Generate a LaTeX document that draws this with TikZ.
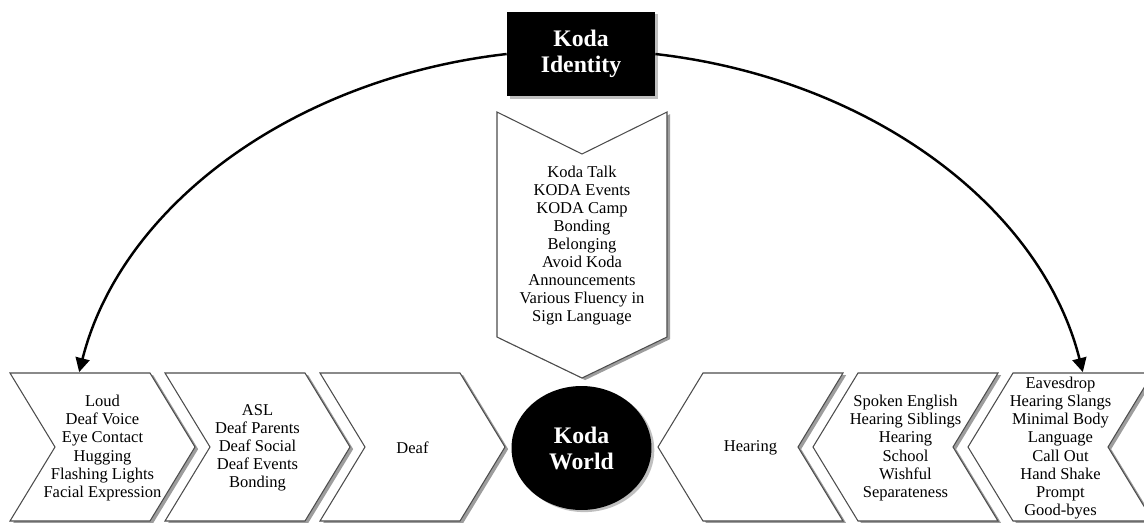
\documentclass[tikz,border=0pt]{standalone}
\usepackage{fontspec}
\setmainfont{Liberation Serif}
\usepackage{tikz}
\usetikzlibrary{arrows.meta,shadows,shapes.geometric,positioning}

\tikzset{
  chev/.style={draw=black!70,fill=white,line width=0.6pt,
    drop shadow={shadow xshift=1.8pt,shadow yshift=-1.2pt,opacity=0.55,fill=black!70}},
  lbl/.style={align=center,inner sep=0pt,font=\fontsize{9.4}{10.3}\selectfont},
  ttl/.style={align=center,text=white,fill=black,
    font=\fontsize{13.5}{14.8}\selectfont\bfseries,
    drop shadow={shadow xshift=1.6pt,shadow yshift=-1.2pt,opacity=0.5}},
  swing/.style={-{Triangle[length=8pt,width=8pt]},line width=1.4pt}
}

\begin{document}
\begin{tikzpicture}[x=0.02cm,y=-0.02cm]
		\useasboundingbox (0,0) rectangle (1144,522);
		\clip (0,0) rectangle (1144,522);
		
		% chevrons towards the middle
		\foreach \l in {10,165,320}
		\draw[chev] (\l,373) -- ++(140,0) -- ++(45,74) -- ++(-45,74) -- ++(-140,0) -- ++(45,-74) -- cycle;
		\foreach \r in {658,813,968}
		\draw[chev] (\r,447) -- ++(45,-74) -- ++(140,0) -- ++(-45,74) -- ++(45,74) -- ++(-140,0) -- cycle;
		\draw[chev] (497,112) -- (582,154) -- (667,112) -- (667,337) -- (582,378) -- (497,337) -- cycle;
		
		\node[ttl,minimum width=2.96cm,minimum height=1.7cm] (ident) at (581,54) {Koda\\Identity};
		\node[ttl,ellipse,minimum width=2.8cm,minimum height=2.48cm] (world) at (581.5,448) {Koda\\World};
		
		\node[lbl] (deafsense) at (102.5,448) {Loud\\Deaf Voice\\Eye Contact\\Hugging\\Flashing Lights\\Facial Expression};
		\node[lbl] (deafhome) at (257.5,448) {ASL\\Deaf Parents\\Deaf Social\\Deaf Events\\Bonding};
		\node[lbl] (deaf) at (412.5,448) {Deaf};
		\node[lbl] (hearing) at (750.5,448) {Hearing};
		\node[lbl] (hearhome) at (905.5,448) {Spoken English\\Hearing Siblings\\Hearing\\School\\Wishful\\Separateness};
		\node[lbl] (hearsense) at (1060.5,448) {Eavesdrop\\Hearing Slangs\\Minimal Body\\Language\\Call Out\\Hand Shake\\Prompt\\Good-byes};
		\node[lbl] (koda) at (582,245.5) {Koda Talk\\KODA Events\\KODA Camp\\Bonding\\Belonging\\Avoid Koda\\Announcements\\Various Fluency in\\Sign Language};
		
		\draw[swing] (ident.west) arc[start angle=-98.3,end angle=-168.8,x radius=511,y radius=400];
		\draw[swing] (ident.east) arc[start angle=-81.7,end angle=-11.2,x radius=511,y radius=400];
	\end{tikzpicture}
\end{document}
